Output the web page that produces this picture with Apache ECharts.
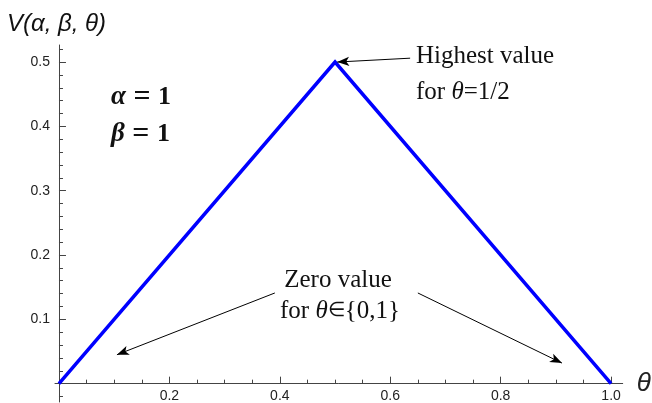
<!DOCTYPE html>
<html>
<head>
<meta charset="utf-8">
<script src="https://cdn.jsdelivr.net/npm/echarts@6/dist/echarts.min.js"></script>
<style>
html, body { margin: 0; padding: 0; background: #fff; }
#chart { width: 652px; height: 403px; }
</style>
</head>
<body>
<div id="chart"></div>
<script>
// V(alpha, beta, theta) for alpha = beta = 1: a tent peaking at theta = 1/2
const thetaValues = [0, 0.5, 1];
const vValues = [0, 0.5, 0];

// axis ticks
const xMajorTicks = [0.2, 0.4, 0.6, 0.8, 1.0];
const xMinorTicks = [0.05, 0.1, 0.15, 0.25, 0.3, 0.35, 0.45, 0.5, 0.55, 0.65, 0.7, 0.75, 0.85, 0.9, 0.95];
const yMajorTicks = [0.1, 0.2, 0.3, 0.4, 0.5];
const yMinorTicks = [-0.02, 0.02, 0.04, 0.06, 0.08, 0.12, 0.14, 0.16, 0.18, 0.22, 0.24, 0.26, 0.28,
  0.32, 0.34, 0.36, 0.38, 0.42, 0.44, 0.46, 0.48, 0.52];

// annotation arrows, in (theta, V) coordinates: tail -> head
const arrowTails = [[0.636, 0.506], [0.391, 0.141], [0.650, 0.141]];
const arrowHeads = [[0.504, 0.500], [0.105, 0.045], [0.911, 0.032]];

const X_MIN = -0.0072, X_MAX = 1.021;
const Y_MIN = -0.0285, Y_MAX = 0.5265;

const AXIS_COLOR = '#444';
const LABEL_COLOR = '#222';
const SANS = '"Liberation Sans", Arial, sans-serif';
const SERIF = '"Liberation Serif", "Times New Roman", serif';

const chart = echarts.init(document.getElementById('chart'), null, { renderer: 'canvas' });

function xAxisDef(ticks, len, showLine, showLabel, name) {
  return {
    type: 'value', min: X_MIN, max: X_MAX, position: 'bottom',
    name: name || '', nameLocation: 'end', nameGap: 14,
    nameTextStyle: { fontFamily: SANS, fontStyle: 'italic', fontSize: 26, color: LABEL_COLOR, verticalAlign: 'middle', padding: [0, 0, 2, 0] },
    axisLine: { show: showLine, onZero: true, lineStyle: { color: AXIS_COLOR, width: 1 } },
    axisTick: { show: true, inside: true, length: len, customValues: ticks, lineStyle: { color: AXIS_COLOR, width: 1 } },
    axisLabel: { show: showLabel, customValues: ticks, margin: -13, fontFamily: SANS, fontSize: 14,
      color: LABEL_COLOR, formatter: v => v.toFixed(1) },
    splitLine: { show: false }
  };
}
function yAxisDef(ticks, len, showLine, showLabel) {
  return {
    type: 'value', min: Y_MIN, max: Y_MAX, position: 'left',
    axisLine: { show: showLine, onZero: true, lineStyle: { color: AXIS_COLOR, width: 1 } },
    axisTick: { show: true, inside: true, length: len, customValues: ticks, lineStyle: { color: AXIS_COLOR, width: 1 } },
    axisLabel: { show: showLabel, customValues: ticks, margin: 5, fontFamily: SANS, fontSize: 14, color: LABEL_COLOR,
      formatter: v => v.toFixed(1) },
    splitLine: { show: false }
  };
}

const arrowData = arrowTails.map((t, i) => [{ coord: t }, { coord: arrowHeads[i] }]);

const eqRich = {
  g: { font: 'italic bold 27px ' + SERIF, fill: '#111' },
  e: { font: 'bold 30px ' + SERIF, fill: '#111' },
  b: { font: 'bold 26px ' + SERIF, fill: '#111' }
};

chart.setOption({
  animation: false,
  backgroundColor: '#fff',
  grid: { left: 55, right: 29.3, top: 45, bottom: 1, containLabel: false, outerBoundsMode: 'none' },
  xAxis: [
    xAxisDef(xMajorTicks, 7, true, true, 'θ'),
    xAxisDef(xMinorTicks, 4, false, false)
  ],
  yAxis: [
    yAxisDef(yMajorTicks, 7, true, true),
    yAxisDef(yMinorTicks, 4, false, false)
  ],
  series: [{
    type: 'line',
    xAxisIndex: 0, yAxisIndex: 0,
    data: thetaValues.map((t, i) => [t, vValues[i]]),
    showSymbol: false,
    lineStyle: { color: '#0000ff', width: 3.5, join: 'miter' },
    silent: true,
    markLine: {
      silent: true,
      symbol: ['none', 'arrow'],
      symbolSize: [7, 12],
      label: { show: false },
      lineStyle: { color: '#000', width: 1, type: 'solid' },
      emphasis: { disabled: true },
      data: arrowData
    }
  }],
  graphic: [
    { type: 'text', left: 7, top: 12,
      style: { text: 'V(α, β, θ)', font: 'italic 24px ' + SANS, fill: '#111' } },
    { type: 'text', x: 111, y: 97,
      style: { text: '{g|α}{e| = }{b|1}', verticalAlign: 'middle', rich: eqRich } },
    { type: 'text', x: 111, y: 134,
      style: { text: '{g|β}{e| = }{b|1}', verticalAlign: 'middle', rich: eqRich } },
    { type: 'text', x: 416, y: 56,
      style: { text: 'Highest value', font: '25px ' + SERIF, fill: '#111', verticalAlign: 'middle' } },
    { type: 'text', x: 416, y: 92,
      style: { text: 'for {i|θ}=1/2', font: '25px ' + SERIF, fill: '#111', verticalAlign: 'middle',
        rich: { i: { font: 'italic 25px ' + SERIF, fill: '#111' } } } },
    { type: 'text', x: 338, y: 280,
      style: { text: 'Zero value', font: '25px ' + SERIF, fill: '#111', align: 'center', verticalAlign: 'middle' } },
    { type: 'text', x: 340, y: 311,
      style: { text: 'for {i|θ}{s|∈}{0,1}', font: '25px ' + SERIF, fill: '#111', align: 'center', verticalAlign: 'middle',
        rich: { i: { font: 'italic 25px ' + SERIF, fill: '#111' }, s: { font: '20px ' + SERIF, fill: '#111' } } } }
  ]
});
</script>
</body>
</html>
